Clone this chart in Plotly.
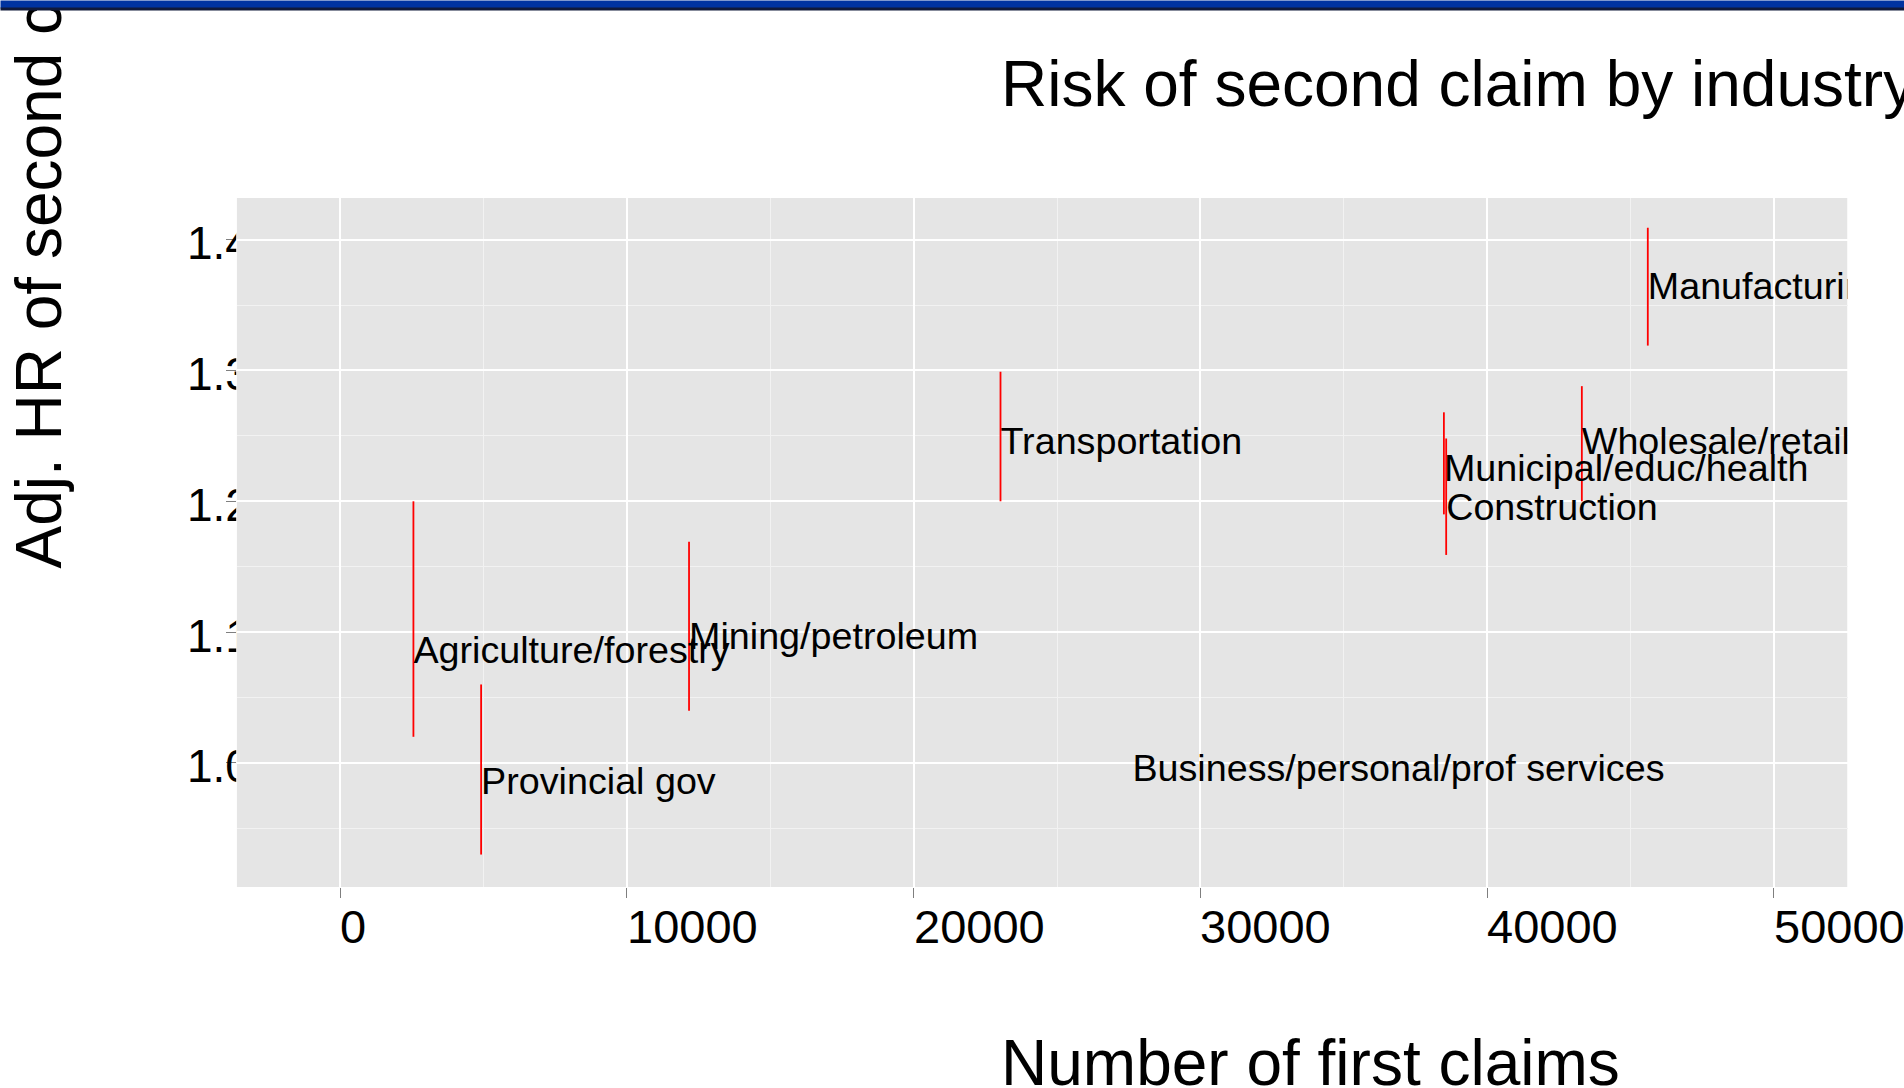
import plotly.graph_objects as go

# ---------------- data ----------------
industries = ["Agriculture/forestry", "Provincial gov", "Mining/petroleum",
              "Transportation", "Municipal/educ/health", "Construction",
              "Wholesale/retail", "Manufacturing", "Business/personal/prof services"]
n_first_claims = [2560, 4920, 12170, 23030, 38490, 38570, 43300, 45600, 27630]
adj_hr = [1.087, 0.987, 1.098, 1.247, 1.226, 1.196, 1.247, 1.365, 0.997]
ci_low = [1.020, 0.930, 1.040, 1.200, 1.190, 1.159, 1.200, 1.319, None]
ci_high = [1.200, 1.060, 1.169, 1.299, 1.268, 1.248, 1.288, 1.409, None]

xtick_vals = [0, 10000, 20000, 30000, 40000, 50000]
xtick_labels = ["0", "10000", "20000", "30000", "40000", "50000"]
ytick_vals = [1.0, 1.1, 1.2, 1.3, 1.4]
ytick_labels = ["1.0", "1.1", "1.2", "1.3", "1.4"]

title_text = "Risk of second claim by industry"
xtitle_text = "Number of first claims"
ytitle_text = "Adj. HR of second claim"

# ---------------- layout geometry ----------------
W, H = 1904, 1088
PL, PR, PT, PB = 236.7, 1847.5, 198.0, 887.0      # panel edges in px
XR = [-3602, 52563]
YR = [0.9052, 1.4318]
PX_PER_UNIT = (PB - PT) / (YR[1] - YR[0])
LABEL_DROP = 4.5 / PX_PER_UNIT      # text baseline correction for label layer
YTICK_DROP = 8.0 / PX_PER_UNIT
FONT = "Liberation Sans, Arial, sans-serif"

fig = go.Figure()

# point labels (clipped to the panel)
fig.add_trace(go.Scatter(
    x=n_first_claims, y=adj_hr, mode="text", text=industries,
    textposition="middle right", cliponaxis=True,
    textfont=dict(family=FONT, size=37.7, color="black"),
    xaxis="x", yaxis="y3", hoverinfo="skip", showlegend=False))

# confidence interval segments
xs, ys = [], []
for x, lo, hi in zip(n_first_claims, ci_low, ci_high):
    if lo is None or hi is None:
        continue
    xs += [x, x, None]
    ys += [lo, hi, None]
fig.add_trace(go.Scatter(
    x=xs, y=ys, mode="lines", line=dict(color="#FF0000", width=1.8),
    hoverinfo="skip", showlegend=False))

# y tick labels, clipped at the panel's left edge (separate strip subplot)
fig.add_trace(go.Scatter(
    x=[187] * len(ytick_vals), y=ytick_vals, mode="text", text=ytick_labels,
    textposition="middle right", cliponaxis=True,
    textfont=dict(family=FONT, size=46, color="black"),
    xaxis="x2", yaxis="y2", hoverinfo="skip", showlegend=False))

fig.update_layout(
    width=W, height=H,
    margin=dict(l=0, r=0, t=0, b=0, autoexpand=False),
    paper_bgcolor="white", plot_bgcolor="white",
    showlegend=False,
    xaxis=dict(domain=[PL / W, PR / W], range=XR, tick0=0, dtick=10000,
               showgrid=True, gridcolor="white", gridwidth=2,
               minor=dict(dtick=5000, showgrid=True, gridcolor="#F2F2F2", gridwidth=1.2),
               ticks="outside", ticklen=10, tickwidth=1, tickcolor="#7F7F7F",
               showticklabels=False, zeroline=False, showline=False, anchor="y"),
    yaxis=dict(domain=[1 - PB / H, 1 - PT / H], range=YR, tick0=1.0, dtick=0.1,
               showgrid=True, gridcolor="white", gridwidth=2,
               minor=dict(dtick=0.05, showgrid=True, gridcolor="#F2F2F2", gridwidth=1.2),
               ticks="outside", ticklen=10, tickwidth=1, tickcolor="#7F7F7F",
               showticklabels=False, zeroline=False, showline=False, anchor="x"),
    yaxis3=dict(overlaying="y", range=[YR[0] + LABEL_DROP, YR[1] + LABEL_DROP],
                visible=False, showgrid=False, anchor="x"),
    xaxis2=dict(domain=[0, (PL - 0.5) / W], range=[0, PL - 0.5], visible=False, anchor="y2"),
    yaxis2=dict(domain=[1 - PB / H, 1 - PT / H], range=[YR[0] + YTICK_DROP, YR[1] + YTICK_DROP],
                visible=False, anchor="x2"),
)

# grey panel background (below gridlines)
fig.add_shape(type="rect", xref="x", yref="y", x0=XR[0], x1=XR[1], y0=YR[0], y1=YR[1],
              fillcolor="#E5E5E5", line=dict(width=0), layer="below")

# x tick labels, left-aligned at tick positions
for v, lab in zip(xtick_vals, xtick_labels):
    fig.add_annotation(x=v, y=1 - 926 / H, xref="x", yref="paper", text=lab,
                       xanchor="left", yanchor="middle", showarrow=False, xshift=-2,
                       font=dict(family=FONT, size=47, color="black"))

# titles
fig.add_annotation(x=999 / W, y=1 - 84 / H, xref="paper", yref="paper", text=title_text,
                   xanchor="left", yanchor="middle", showarrow=False,
                   font=dict(family=FONT, size=64, color="black"))
fig.add_annotation(x=999 / W, y=1 - 1063 / H, xref="paper", yref="paper", text=xtitle_text,
                   xanchor="left", yanchor="middle", showarrow=False,
                   font=dict(family=FONT, size=64, color="black"))
fig.add_annotation(x=38 / W, y=1 - 571 / H, xref="paper", yref="paper", text=ytitle_text,
                   textangle=-90, xanchor="center", yanchor="bottom", showarrow=False,
                   font=dict(family=FONT, size=64, color="black"))

# blue banner at the top of the slide
fig.add_annotation(x=0, y=1, xref="paper", yref="paper", text=" ", xanchor="left", yanchor="top",
                   width=W, height=7, bgcolor="#0033A0", borderpad=0, showarrow=False)
fig.add_annotation(x=0, y=1 - 7 / H, xref="paper", yref="paper", text=" ", xanchor="left", yanchor="top",
                   width=W, height=1.5, bgcolor="#101A3A", borderpad=0, showarrow=False)

fig.write_html("out.html")
